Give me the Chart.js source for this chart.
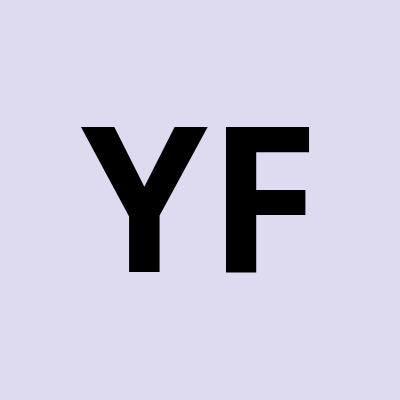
<!DOCTYPE html>
<html>
<head>
<meta charset="utf-8">
<script src="https://cdn.jsdelivr.net/npm/chart.js@4.4.0/dist/chart.umd.min.js"></script>
<style>
  html, body { margin: 0; padding: 0; background: #dedbf0; }
  #wrap { width: 400px; height: 400px; }
</style>
</head>
<body>
<div id="wrap"><canvas id="avatar"></canvas></div>
<script>
// initials shown on the tile
const initials = ['Y', 'F'];
const tileColor = '#dedbf0';
const textColor = '#000000';

const initialsPlugin = {
    id: 'initials',
    beforeDraw(chart) {
        const ctx = chart.ctx;
        ctx.save();
        ctx.fillStyle = tileColor;
        ctx.fillRect(0, 0, chart.width, chart.height);
        ctx.restore();
    },
    afterDraw(chart) {
        const ctx = chart.ctx;
        ctx.save();
        ctx.fillStyle = textColor;
        ctx.font = 'bold 203px "Open Sans"';
        ctx.textAlign = 'center';
        ctx.textBaseline = 'alphabetic';
        ctx.fillText(initials.join(''), chart.width / 2, 272);
        ctx.restore();
    }
};

new Chart(document.getElementById('avatar'), {
    type: 'scatter',
    data: { datasets: [] },
    options: {
        responsive: true,
        maintainAspectRatio: false,
        animation: { duration: 0 },
        events: [],
        plugins: { legend: { display: false }, tooltip: { enabled: false } },
        scales: { x: { display: false }, y: { display: false } }
    },
    plugins: [initialsPlugin]
});
</script>
</body>
</html>
